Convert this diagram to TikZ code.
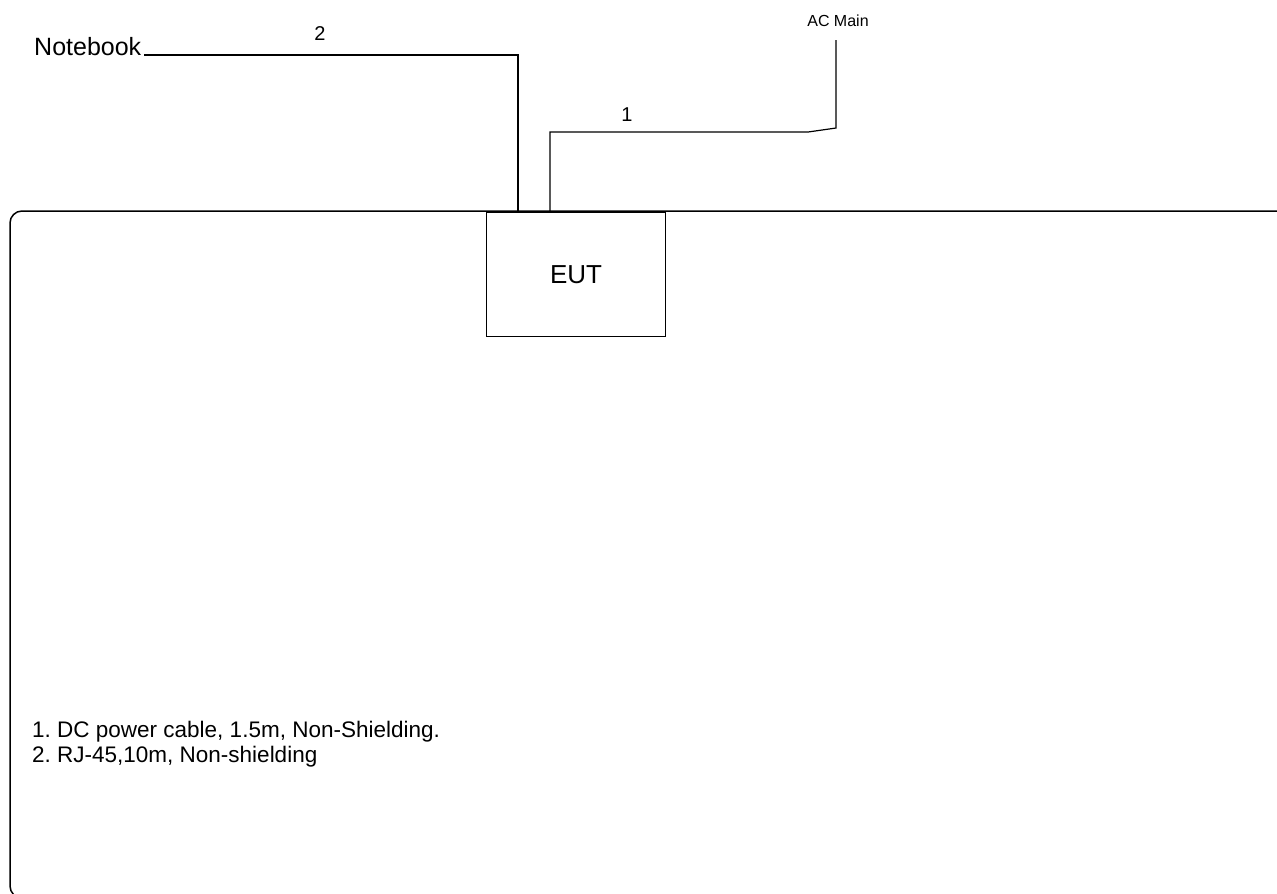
\documentclass[tikz,border=0pt]{standalone}
\usepackage{fontspec}
\setmainfont{Liberation Sans}
\frenchspacing
\begin{document}
\begin{tikzpicture}[x=1pt,y=-1pt,
  wire/.style={line width=1.2pt, black},
  boxstyle/.style={draw, line width=1.2pt, inner sep=0pt, minimum width=179pt, minimum height=124pt, font=\fontsize{26}{30}\selectfont},
  lbl/.style={inner sep=0pt, font=\fontsize{20}{22}\selectfont},
  legend/.style={inner sep=0pt, anchor=base west, font=\fontsize{22.5}{25}\selectfont}]
\useasboundingbox (0,0) rectangle (1277,894);
\begin{scope}
  \clip (0,0) rectangle (1277,894);
  \draw[line width=1.5pt, rounded corners=12pt] (10,211) rectangle (1292,898);
\end{scope}
\node[boxstyle, anchor=north west] (eut) at (486,212) {EUT};
\node[inner sep=0pt, anchor=base west, font=\fontsize{25}{28}\selectfont] (nb) at (34,55) {Notebook};
\node[inner sep=0pt, anchor=base, font=\fontsize{16}{18}\selectfont] (acm) at (838,27) {AC Main};
\node[lbl, anchor=base] (l2) at (320,40) {2};
\node[lbl, anchor=base] (l1) at (627,121) {1};
\coordinate (c2) at (518,212);
\coordinate (c1) at (550,212);
\coordinate (acend) at (836,40);
\draw[wire] ([xshift=3pt]nb.base east) -| (c2);
\draw[wire] (c1) |- (808,132) -- (836,128) -- (acend);
\node[legend] (t1) at (32,737) {1. DC power cable, 1.5m, Non-Shielding.};
\node[legend] (t2) at (32,762) {2. RJ-45,10m, Non-shielding};
\end{tikzpicture}
\end{document}
